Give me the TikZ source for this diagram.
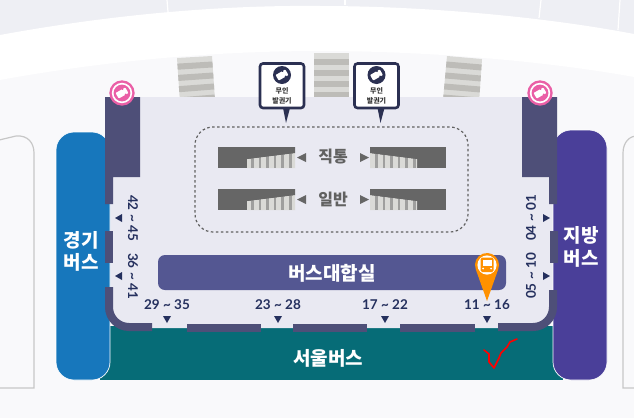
\documentclass[tikz,border=0pt]{standalone}
\usepackage{fontspec}
\setmainfont{Lato}
\newfontfamily\krfont{Noto Sans CJK KR}
\usetikzlibrary{calc}

\definecolor{pagebg}{HTML}{F9F9FB}
\definecolor{topgrey}{HTML}{EEEFF4}
\definecolor{hallbg}{HTML}{E9E9F2}
\definecolor{walldark}{HTML}{4E4F78}
\definecolor{roombar}{HTML}{545792}
\definecolor{gyeonggi}{HTML}{1777BC}
\definecolor{jibang}{HTML}{4A3F99}
\definecolor{seoul}{HTML}{066C77}
\definecolor{numnavy}{HTML}{25305E}
\definecolor{kioskdark}{HTML}{2B3052}
\definecolor{pinkmark}{HTML}{EA5FA6}
\definecolor{pinorange}{HTML}{FF9100}
\definecolor{escdark}{HTML}{666666}
\definecolor{stairlight}{HTML}{DADAD7}
\definecolor{stairdark}{HTML}{BDBCB8}

\tikzset{
    wall/.style={fill=walldark,draw=none},
    walltrack/.style={draw=walldark,line width=8pt,line cap=butt},
    sidebus/.style={draw=white,line width=0.7pt,rounded corners=18pt},
    buslabel/.style={text=white,font=\krfont\bfseries\fontsize{19}{21}\selectfont,inner sep=0pt},
    numlabel/.style={text=numnavy,font=\bfseries\fontsize{13.5}{15}\selectfont,inner sep=0pt},
    marker/.style={fill=numnavy,draw=none},
    kiosktext/.style={text=black!80,font=\krfont\bfseries\fontsize{7}{8}\selectfont,inner sep=0pt},
    kioskbox/.style={fill=white,draw=kioskdark,line width=2.6pt,rounded corners=3pt},
    esclabel/.style={text=black!62,font=\krfont\bfseries\fontsize{16}{18}\selectfont,inner sep=0pt},
}

% a ticket with notches, drawn tilted
\newcommand{\ticketicon}[4]{%
    \begin{scope}[shift={(#1,#2)},rotate=30,scale=0.8]
        \fill[#3,rounded corners=0.8pt] (-7,-4) rectangle (7,4);
        \fill[#4] (3,-4) circle (1.4);
        \fill[#4] (3,4) circle (1.4);
    \end{scope}
}
% stair block: corners, then stripes between them
\newcommand{\stairblock}[4]{%
    \fill[stairlight] #1--#2--#3--#4--cycle;
    \foreach \s in {0,1,2,3}{
        \fill[stairdark] ($#1!{0.125+\s*0.25}!#4$)--($#2!{0.125+\s*0.25}!#3$)--($#2!{0.26+\s*0.25}!#3$)--($#1!{0.26+\s*0.25}!#4$)--cycle;
    }
}

\begin{document}
\begin{tikzpicture}[x=1pt,y=-1pt]
    \useasboundingbox (0,0) rectangle (634,418);
    \fill[pagebg] (0,0) rectangle (634,418);

    % ground above the hall
    \fill[topgrey] (0,0) rectangle (634,40);
    \fill[white] (0,35) .. controls (120,13) and (230,5) .. (320,6) .. controls (420,6) and (540,16) .. (634,34)
        -- (634,77) .. controls (540,60) and (420,51) .. (320,51) .. controls (220,51) and (110,60) .. (0,80) -- cycle;
    \draw[white,line width=1.2pt] (167,0)--(168,12);
    \draw[white,line width=1.2pt] (345,0)--(345,5);
    \draw[white,line width=1.2pt] (541,0)--(539,18);
    \draw[white,line width=1.2pt] (620,0)--(618,30);

    % side buildings
    \draw[black!22,line width=1.2pt,fill=pagebg] (-5,141) -- (16,136) .. controls (28,135) and (34,143) .. (34,153) -- (34,388) -- (-5,388);
    \draw[black!22,line width=1.2pt,fill=pagebg] (639,388) -- (623,388) -- (623,153) .. controls (623,143) and (629,135) .. (639,136);

    % stairs
    \stairblock{(177,58)}{(212,56)}{(215,100)}{(180,103)}
    \stairblock{(314,53)}{(349,53)}{(349,98)}{(314,98)}
    \stairblock{(447,56)}{(482,59)}{(479,103)}{(443,100)}

    % bus areas
    \fill[seoul] (100,326) rectangle (563,380);
    \fill[hallbg] (105,97) -- (557,97) -- (557,305) arc (0:90:23) -- (128,328) arc (90:180:23) -- cycle;
    \draw[sidebus,fill=gyeonggi] (56,132) rectangle (110,380);
    \draw[sidebus,fill=jibang] (553,130) rectangle (607,380);
    \fill[hallbg] (113,190) rectangle (549,300);

    % walls
    \fill[wall] (105,97) -- (140,97) -- (140,177) -- (113,177) -- (113,204) -- (105,204) -- cycle;
    \fill[wall] (522,97) -- (557,97) -- (557,204) -- (549,204) -- (549,177) -- (522,177) -- cycle;
    \fill[wall] (105,231) rectangle (113,263);
    \fill[wall] (550,231) rectangle (558,263);
    \draw[walltrack] (109,287) -- (109,307) arc (180:90:20) -- (152,327);
    \draw[walltrack] (187,327.5) -- (261,327.5);
    \draw[walltrack] (293,327.5) -- (367,327.5);
    \draw[walltrack] (400,327.5) -- (475,327.5);
    \draw[walltrack] (498,327) -- (533,327) arc (90:0:20) -- (553,290);

    % pink ticket marks
    \foreach \px in {122,540}{
        \fill[pinkmark] (\px,93) circle (12.7);
        \fill[white] (\px,93) circle (10.2);
        \fill[pinkmark] (\px,93) circle (8.4);
        \ticketicon{\px}{93}{white}{pinkmark}
    }

    % dashed platform
    \draw[black!62,line width=1.2pt,dash pattern=on 2.5pt off 2.5pt,rounded corners=18pt] (195,127) rectangle (468,232);

    % escalators
    \foreach \ey in {0,42}{
        \fill[escdark] (218,147+\ey) rectangle (295,168+\ey);
        \fill[stairlight] (247,159+\ey) -- (295,153+\ey) -- (295,168+\ey) -- (247,168+\ey) -- cycle;
        \fill[escdark] (297,157.5+\ey) -- (306,153+\ey) -- (306,162+\ey) -- cycle;
        \fill[escdark] (370,147+\ey) rectangle (446,168+\ey);
        \fill[stairlight] (370,153+\ey) -- (417,159+\ey) -- (417,168+\ey) -- (370,168+\ey) -- cycle;
        \fill[escdark] (369,157.5+\ey) -- (360,153+\ey) -- (360,162+\ey) -- cycle;
        \foreach \bx in {0,1,2,3,4,5}{
            \fill[black!45,opacity=0.75] (251+\bx*7.6,152+\ey) rectangle (253.5+\bx*7.6,168+\ey);
            \fill[black!45,opacity=0.75] (375+\bx*7.6,152+\ey) rectangle (377.5+\bx*7.6,168+\ey);
        }
        \fill[escdark] (247,147+\ey) -- (295,147+\ey) -- (295,153+\ey) -- (247,159+\ey) -- cycle;
        \fill[escdark] (370,147+\ey) -- (417,147+\ey) -- (417,159+\ey) -- (370,153+\ey) -- cycle;
    }
    \node[esclabel] (direct) at (333,157) {직통};
    \node[esclabel] (normal) at (333,199) {일반};

    % waiting room
    \fill[roombar,rounded corners=7pt] (158,255) rectangle (506,290);
    \node[buslabel] (room) at (332,273) {버스대합실};

    % kiosks
    \foreach \kx/\kname in {282/kioska,376.5/kioskb}{
        \fill[kioskdark] (\kx+1,108) -- (\kx+4,123) -- (\kx+8,108) -- cycle;
        \draw[kioskbox] (\kx-22,63.5) rectangle (\kx+22,108);
        \fill[kioskdark] (\kx,75) circle (9);
        \ticketicon{\kx}{75}{white}{kioskdark}
        \node[kiosktext] (\kname a) at (\kx,90.5) {무인};
        \node[kiosktext] (\kname b) at (\kx,100.5) {발권기};
    }

    % platform numbers
    \foreach \nx/\ntext/\nname in {167/29 \textasciitilde\ 35/numa,278/23 \textasciitilde\ 28/numb,385/17 \textasciitilde\ 22/numc,487/11 \textasciitilde\ 16/numd}{
        \node[numlabel] (\nname) at (\nx,305) {\ntext};
        \fill[marker] (\nx-4,316) -- (\nx+4,316) -- (\nx,323) -- cycle;
    }
    \node[numlabel,rotate=-90] (nume) at (133,218) {42 \textasciitilde\ 45};
    \node[numlabel,rotate=-90] (numf) at (133,276) {36 \textasciitilde\ 41};
    \node[numlabel,rotate=90] (numg) at (531,218) {04 \textasciitilde\ 01};
    \node[numlabel,rotate=90] (numh) at (531,276) {05 \textasciitilde\ 10};
    \foreach \my in {218,276}{
        \fill[marker] (115,\my) -- (122,\my-4) -- (122,\my+4) -- cycle;
        \fill[marker] (550,\my) -- (543,\my-4) -- (543,\my+4) -- cycle;
    }

    % bus names
    \node[buslabel] (gga) at (81,240) {경기};
    \node[buslabel] (ggb) at (81,262) {버스};
    \node[buslabel] (jba) at (581,235) {지방};
    \node[buslabel] (jbb) at (581,258) {버스};
    \node[buslabel] (seoulbus) at (328,358) {서울버스};

    % location pin
    \fill[pinorange] (487,301) -- (475.7,269.1) arc (160:380:12) -- cycle;
    \fill[white] (487,265) circle (9.6);
    \fill[pinorange,rounded corners=1.5pt] (480.5,257.5) rectangle (493.5,272);
    \fill[white] (482.5,260) rectangle (491.5,265.5);
    \fill[white] (483,268.5) circle (1);
    \fill[white] (491,268.5) circle (1);

    % red tick
    \draw[red,line width=1.6pt,line join=round,line cap=round] (484,350) -- (489,354) -- (489,362) -- (494,368) -- (499,358) -- (501,353) -- (507,347) -- (510,342) -- (517,339);
\end{tikzpicture}
\end{document}
